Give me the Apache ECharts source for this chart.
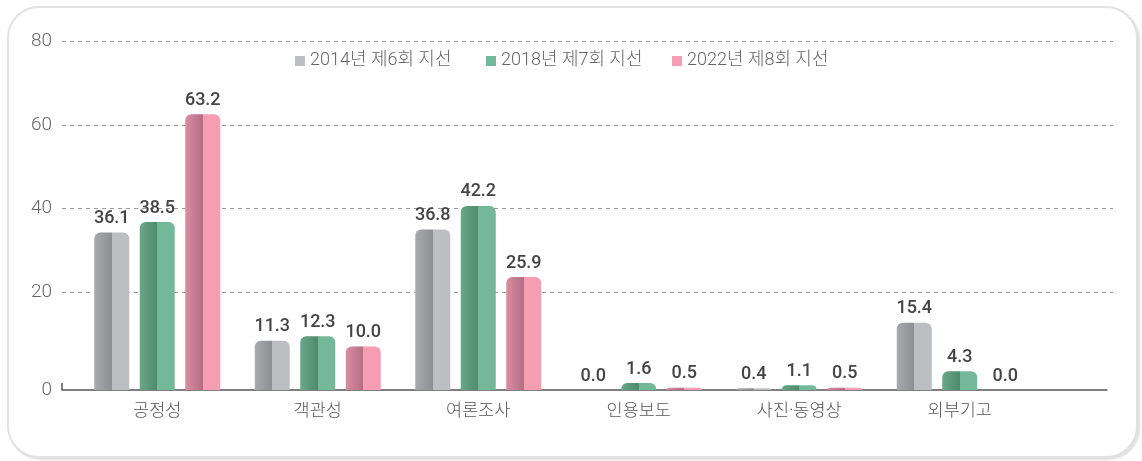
<!DOCTYPE html>
<html>
<head>
<meta charset="utf-8">
<script src="https://cdn.jsdelivr.net/npm/echarts@6/dist/echarts.min.js"></script>
<style>
  html, body { margin: 0; padding: 0; background: #ffffff; }
  #frame {
    position: absolute; left: 7px; top: 6px; width: 1131px; height: 452px;
    box-sizing: border-box; border: 2.5px solid #e2e2e2; border-radius: 32px;
    box-shadow: 2px 2px 2px rgba(0,0,0,0.13);
    background: #fff;
  }
  #chart { position: absolute; left: 0; top: 0; width: 1142px; height: 461px; }
</style>
</head>
<body>
<div id="frame"></div>
<div id="chart"></div>
<script>
// Categories and per-election shares (%)
const categories = ['공정성', '객관성', '여론조사', '인용보도', '사진·동영상', '외부기고'];
const seriesNames = ['2014년 제6회 지선', '2018년 제7회 지선', '2022년 제8회 지선'];
const values2014 = [36.1, 11.3, 36.8, 0.0, 0.4, 15.4];
const values2018 = [38.5, 12.3, 42.2, 1.6, 1.1, 4.3];
const values2022 = [63.2, 10.0, 25.9, 0.5, 0.5, 0.0];
const yMax = 80;
const yStep = 20;

// Split-shaded bar fills: darker left half, flat right half
const palettes = [
  { edge: '#a9aaae', mid: '#8d8e92', face: '#bdbec2' },
  { edge: '#68a887', mid: '#4f8a6d', face: '#73b999' },
  { edge: '#da8ca2', mid: '#b36f84', face: '#f49db3' }
];
function barFill(p) {
  return new echarts.graphic.LinearGradient(0, 0, 1, 0, [
    { offset: 0, color: p.edge },
    { offset: 0.5, color: p.mid },
    { offset: 0.5, color: p.face },
    { offset: 1, color: p.face }
  ]);
}

const seriesData = [values2014, values2018, values2022];
const legendLeft = [290, 481, 667];
const latinKorean = "'Roboto', 'Noto Sans CJK KR'";

const chart = echarts.init(document.getElementById('chart'));

const option = {
  animation: false,
  backgroundColor: 'transparent',
  legend: seriesNames.map((n, i) => ({
    top: 47,
    left: legendLeft[i],
    itemWidth: 10,
    itemHeight: 10,
    itemGap: 6,
    icon: 'rect',
    textStyle: { fontFamily: latinKorean, fontWeight: 300, fontSize: 18, color: '#666' },
    data: [{ name: n, itemStyle: { color: palettes[i].face } }]
  })),
  grid: [
    // baseline axis and its "0" label
    { left: 62, right: 35, top: 41, bottom: 71 },
    // bars
    { left: 77, right: 102, top: 41, bottom: 71 },
    // dashed guide lines with 20..80 labels
    { left: 62, right: 29, top: 41, bottom: 85 }
  ],
  xAxis: [
    {
      gridIndex: 0, type: 'value', min: 0, max: 1,
      axisLine: { show: true, lineStyle: { color: '#555', width: 1.5 } },
      axisTick: { show: true, inside: true, length: 7, customValues: [0], lineStyle: { color: '#555', width: 1.5 } },
      axisLabel: { show: false },
      splitLine: { show: false }
    },
    {
      gridIndex: 1, type: 'category', data: categories,
      axisLine: { show: false }, axisTick: { show: false },
      axisLabel: { margin: 13, fontFamily: latinKorean, fontWeight: 300, fontSize: 17.5, color: '#555' }
    },
    {
      gridIndex: 2, type: 'value', min: 0, max: 1, show: false
    }
  ],
  yAxis: [
    {
      gridIndex: 0, type: 'value', min: 0, max: yMax, interval: yMax,
      axisLine: { show: false }, axisTick: { show: false },
      axisLabel: { margin: 10, showMaxLabel: false, fontFamily: 'Roboto', fontWeight: 300, fontSize: 19, color: '#666' },
      splitLine: { show: false }
    },
    {
      gridIndex: 1, type: 'value', min: 0, max: yMax, interval: yStep, show: false
    },
    {
      gridIndex: 2, type: 'value', min: 0, max: yMax, interval: yStep,
      axisLine: { show: false }, axisTick: { show: false },
      axisLabel: { margin: 10, showMinLabel: false, fontFamily: 'Roboto', fontWeight: 300, fontSize: 19, color: '#666' },
      splitLine: { show: true, showMinLine: false, lineStyle: { color: '#999', type: [4, 4], width: 1 } }
    }
  ],
  series: seriesNames.map((name, i) => ({
    name: name,
    type: 'bar',
    xAxisIndex: 1,
    yAxisIndex: 1,
    barWidth: 35,
    barGap: '30%',
    data: seriesData[i],
    itemStyle: { color: barFill(palettes[i]), borderRadius: [6, 6, 0, 0] },
    label: {
      show: true, position: 'top', distance: 5,
      fontFamily: 'Roboto', fontWeight: 500, fontSize: 18, color: '#444',
      formatter: p => p.value.toFixed(1)
    }
  }))
};
chart.setOption(option);
</script>
</body>
</html>
